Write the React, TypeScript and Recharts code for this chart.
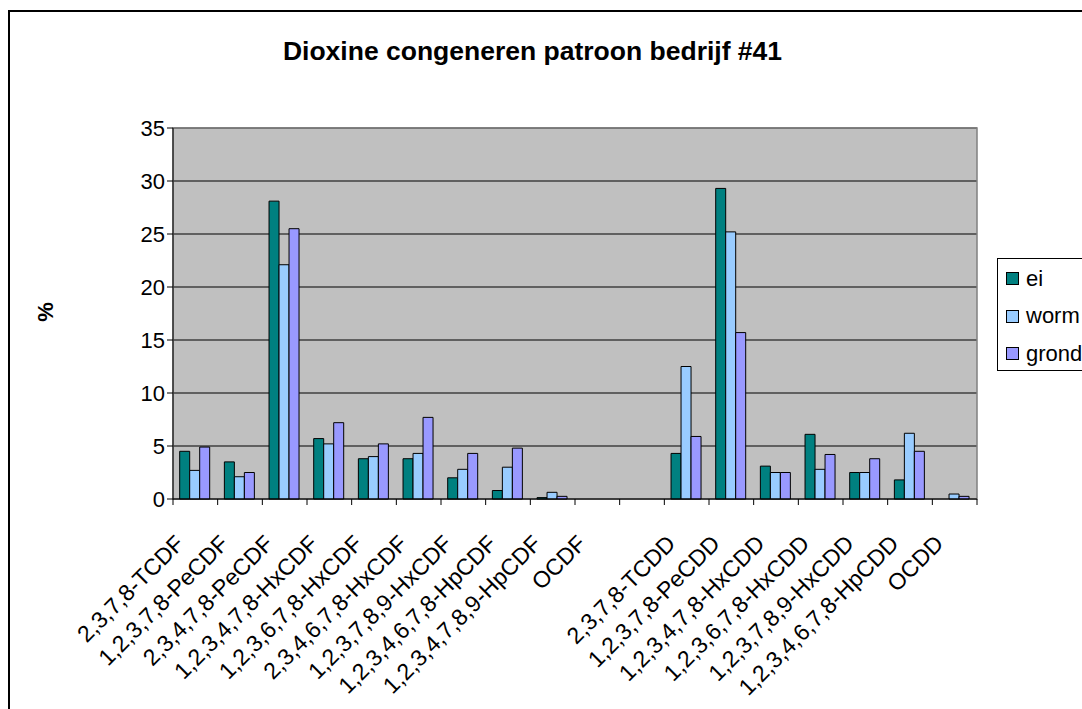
import React from "react";
import {
  BarChart,
  Bar,
  XAxis,
  YAxis,
  CartesianGrid,
  Legend,
  ReferenceArea,
} from "recharts";

const congeners = [
  "2,3,7,8-TCDF",
  "1,2,3,7,8-PeCDF",
  "2,3,4,7,8-PeCDF",
  "1,2,3,4,7,8-HxCDF",
  "1,2,3,6,7,8-HxCDF",
  "2,3,4,6,7,8-HxCDF",
  "1,2,3,7,8,9-HxCDF",
  "1,2,3,4,6,7,8-HpCDF",
  "1,2,3,4,7,8,9-HpCDF",
  "OCDF",
  "",
  "2,3,7,8-TCDD",
  "1,2,3,7,8-PeCDD",
  "1,2,3,4,7,8-HxCDD",
  "1,2,3,6,7,8-HxCDD",
  "1,2,3,7,8,9-HxCDD",
  "1,2,3,4,6,7,8-HpCDD",
  "OCDD",
];

const ei = [4.5, 3.5, 28.1, 5.7, 3.8, 3.8, 2.0, 0.8, 0.13, 0, null, 4.3, 29.3, 3.1, 6.1, 2.5, 1.8, 0];
const worm = [2.7, 2.1, 22.1, 5.2, 4.0, 4.3, 2.8, 3.0, 0.63, 0, null, 12.5, 25.2, 2.5, 2.8, 2.5, 6.2, 0.47];
const grond = [4.9, 2.5, 25.5, 7.2, 5.2, 7.7, 4.3, 4.8, 0.25, 0, null, 5.9, 15.7, 2.5, 4.2, 3.8, 4.5, 0.25];

const yTicks = [0, 5, 10, 15, 20, 25, 30, 35];

const series = [
  { key: "ei", color: "#008080" },
  { key: "worm", color: "#99CCFF" },
  { key: "grond", color: "#9999FF" },
];

const data = congeners.map((name, i) => ({
  name,
  ei: ei[i],
  worm: worm[i],
  grond: grond[i],
}));

const FONT = "'Liberation Sans', Arial, sans-serif";
const CHART_W = 1100;
const CHART_H = 690;
const PLOT_LEFT = 163;
const PLOT_RIGHT = 967;
const BAND = (PLOT_RIGHT - PLOT_LEFT) / congeners.length;

// category labels rotated 45deg, tick marks on the band edges (Excel style)
function CategoryTick(props: any) {
  const { x, y, payload, index } = props;
  const isLast = index === congeners.length - 1;
  return (
    <g>
      <line x1={x - BAND / 2} y1={y} x2={x - BAND / 2} y2={y + 6} stroke="#000" />
      {isLast && <line x1={x + BAND / 2} y1={y} x2={x + BAND / 2} y2={y + 6} stroke="#000" />}
      <text
        transform={`translate(${x - 10},${y + 46}) rotate(-45)`}
        textAnchor="end"
        fontSize={23}
        fontFamily={FONT}
        fill="#000"
      >
        {payload.value}
      </text>
    </g>
  );
}

function LegendBox() {
  return (
    <div
      style={{
        border: "1px solid #000",
        background: "#fff",
        width: 110,
        height: 113,
        boxSizing: "border-box",
        paddingTop: 1,
        fontFamily: FONT,
        fontSize: 22,
        textAlign: "left",
      }}
    >
      {series.map((s) => (
        <div key={s.key} style={{ height: 37.5, display: "flex", alignItems: "center", paddingLeft: 8 }}>
          <span
            style={{
              width: 13,
              height: 13,
              boxSizing: "border-box",
              border: "1.5px solid #000",
              background: s.color,
              marginRight: 7,
            }}
          />
          <span style={{ color: "#000" }}>{s.key}</span>
        </div>
      ))}
    </div>
  );
}

export default function App() {
  return (
    <div
      style={{
        position: "fixed",
        left: 8,
        top: 10,
        width: 1120,
        height: 730,
        borderLeft: "2px solid #000",
        borderTop: "2px solid #000",
        background: "#fff",
      }}
    >
      <div
        style={{
          position: "absolute",
          left: 0,
          top: 24,
          width: 1045,
          textAlign: "center",
          fontFamily: FONT,
          fontWeight: "bold",
          fontSize: 26.5,
          color: "#000",
        }}
      >
        Dioxine congeneren patroon bedrijf #41
      </div>
      <div
        style={{
          position: "absolute",
          left: 21,
          top: 287,
          width: 30,
          textAlign: "center",
          transform: "rotate(-90deg)",
          fontFamily: FONT,
          fontWeight: "bold",
          fontSize: 22,
          color: "#000",
        }}
      >
        %
      </div>
      <BarChart
        width={CHART_W}
        height={CHART_H}
        data={data}
        margin={{ top: 116, right: CHART_W - PLOT_RIGHT, bottom: 0, left: 0 }}
        barCategoryGap="15%"
        barGap={0}
      >
        <CartesianGrid vertical={false} stroke="#000" fill="#C0C0C0" fillOpacity={1} />
        <ReferenceArea y1={0} y2={35} fill="none" stroke="#808080" strokeWidth={1.5} />
        <XAxis
          dataKey="name"
          interval={0}
          height={CHART_H - 487}
          tickLine={false}
          tickSize={0}
          tickMargin={0}
          axisLine={{ stroke: "#000" }}
          tick={<CategoryTick />}
        />
        <YAxis
          domain={[0, 35]}
          ticks={yTicks}
          width={PLOT_LEFT}
          tickSize={6}
          tickMargin={2}
          axisLine={{ stroke: "#000" }}
          tickLine={{ stroke: "#000" }}
          tick={{ fontSize: 22, fontFamily: FONT, fill: "#000" }}
        />
        <Legend
          layout="horizontal"
          verticalAlign="middle"
          align="center"
          content={<LegendBox />}
          wrapperStyle={{ position: "absolute", left: 987, top: 246, width: 110, height: 113 }}
        />
        {series.map((s) => (
          <Bar
            key={s.key}
            dataKey={s.key}
            fill={s.color}
            stroke="#000"
            strokeWidth={1}
            isAnimationActive={false}
          />
        ))}
      </BarChart>
    </div>
  );
}
